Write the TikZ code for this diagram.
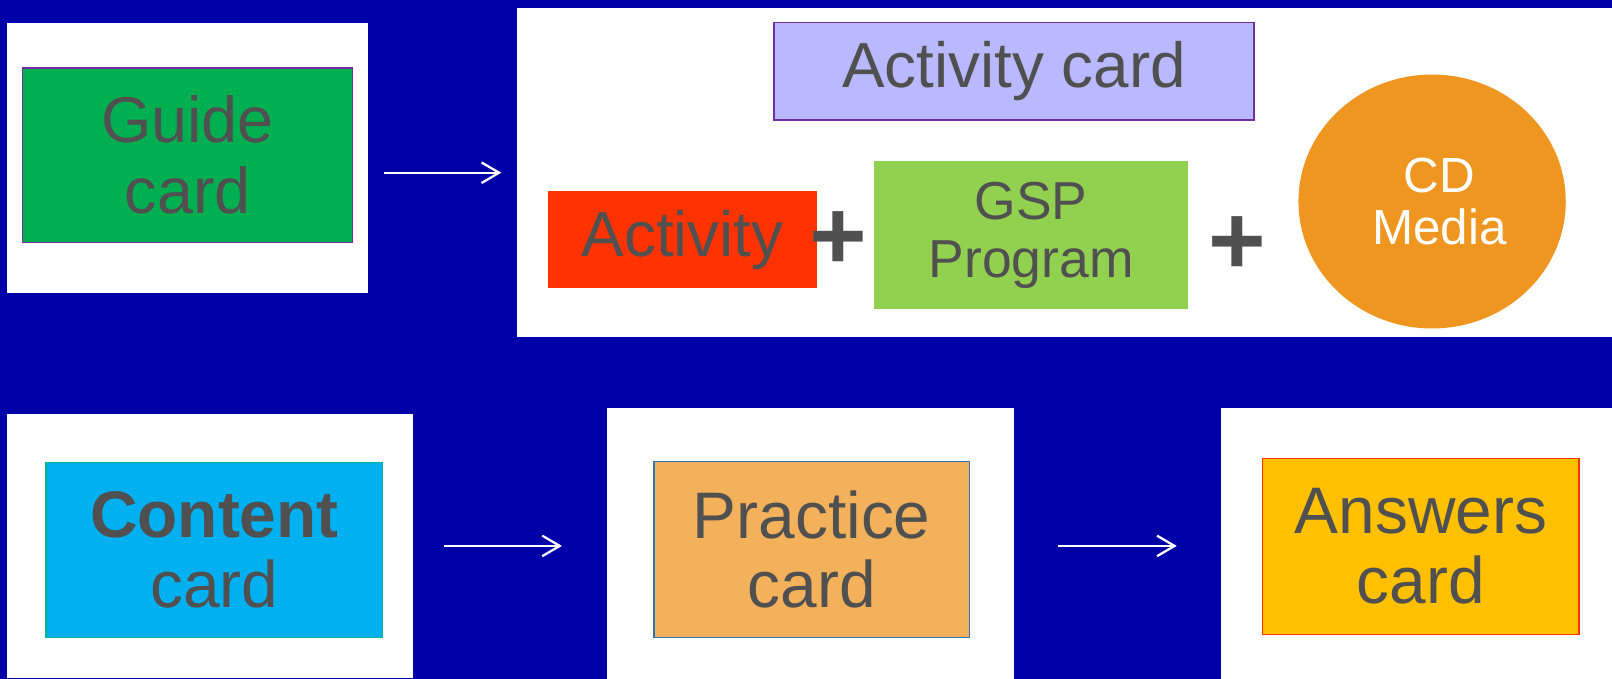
\documentclass[tikz,border=0pt]{standalone}
\usepackage{fontspec}
\setmainfont{Liberation Sans}
\usetikzlibrary{arrows.meta,fit,shapes.geometric}

\definecolor{bgblue}{RGB}{0,0,168}
\definecolor{txtgray}{RGB}{80,80,80}
\definecolor{cardpurple}{RGB}{112,48,160}
\definecolor{guidegreen}{RGB}{0,176,80}
\definecolor{lavender}{RGB}{185,185,255}
\definecolor{actred}{RGB}{255,51,0}
\definecolor{gspgreen}{RGB}{146,208,80}
\definecolor{cdorange}{RGB}{238,150,31}
\definecolor{contentcyan}{RGB}{0,176,240}
\definecolor{contentedge}{RGB}{0,180,140}
\definecolor{practiceorange}{RGB}{244,177,92}
\definecolor{practiceedge}{RGB}{46,117,182}
\definecolor{answersgold}{RGB}{255,192,0}

\begin{document}
\begin{tikzpicture}[x=0.5pt,y=-0.5pt,
  panel/.style={fill=white, inner sep=0pt},
  card/.style={line width=0.8pt, inner sep=0pt},
  cardtext/.style={inner sep=0pt, align=center, text=txtgray},
  flow/.style={draw=white, line width=1.1pt,
    -{Straight Barb[length=8.5pt,width=10pt,line width=1.1pt]}},
  plus/.style={text=txtgray, inner sep=0pt,
    font=\fontsize{48}{48}\selectfont\bfseries}
]
% backdrop
\fill[bgblue] (0,0) rectangle (1568,660);
\useasboundingbox (0,0) rectangle (1568,660);

% ---- top row ----
\node[panel, fit={(7,22)(358,285)}] (guidepanel) {};
\node[card, draw=cardpurple, fill=guidegreen, fit={(22,66)(343,236)}] (guide) {};
\node[cardtext, font=\fontsize{31.5}{34.5}\selectfont] (guidetxt) at (guide) {Guide\\card};

\node[panel, fit={(503,8)(1568,328)}] (actpanel) {};
\node[card, draw=cardpurple, fill=lavender, fit={(753,22)(1220,117)}] (actcard) {};
\node[cardtext, font=\fontsize{31}{34}\selectfont] (actcardtxt) at (actcard) {Activity card};
\node[card, fill=actred, fit={(533,186)(795,280)}] (activity) {};
\node[cardtext, font=\fontsize{31}{34}\selectfont] (activitytxt) at (activity) {Activity};
\node[card, fill=gspgreen, fit={(850,157)(1156,301)}] (gsp) {};
\node[cardtext, font=\fontsize{26}{28.5}\selectfont] (gsptxt) at (gsp) {GSP\\Program};
\node[ellipse, fill=cdorange, inner sep=0pt, minimum width=130pt, minimum height=123.5pt] (cd) at (1393,196) {};
\node[cardtext, text=white, font=\fontsize{24}{25.5}\selectfont] (cdtxt) at ([xshift=3.5pt]cd.center) {CD\\Media};
\node[plus] (plus1) at (815,234) {+};
\node[plus] (plus2) at (1204,239) {+};

\draw[flow, shorten <=7.5pt, shorten >=7.5pt] (guidepanel.east |- actpanel.west) -- (actpanel.west);

% ---- bottom row ----
\node[panel, fit={(7,403)(402,659)}] (contentpanel) {};
\node[card, draw=contentedge, fill=contentcyan, fit={(45,450)(372,620)}] (content) {};
\node[cardtext, font=\fontsize{32}{34}\selectfont] (contenttxt) at (content) {\textbf{Content}\\card};

\node[panel, fit={(590,397)(986,665)}] (practicepanel) {};
\node[card, draw=practiceedge, fill=practiceorange, fit={(636,449)(943,620)}] (practice) {};
\node[cardtext, font=\fontsize{32}{34}\selectfont] (practicetxt) at (practice) {Practice\\card};

\node[panel, fit={(1188,397)(1568,665)}] (answerspanel) {};
\node[card, draw=actred, fill=answersgold, fit={(1228,446)(1536,617)}] (answers) {};
\node[cardtext, font=\fontsize{32}{34}\selectfont] (answerstxt) at (answers) {Answers\\card};

\draw[flow, shorten <=14.5pt, shorten >=21.5pt] (contentpanel.east |- practicepanel.west) -- (practicepanel.west);
\draw[flow, shorten <=21.5pt, shorten >=21.5pt] (practicepanel.east |- answerspanel.west) -- (answerspanel.west);
\end{tikzpicture}
\end{document}
